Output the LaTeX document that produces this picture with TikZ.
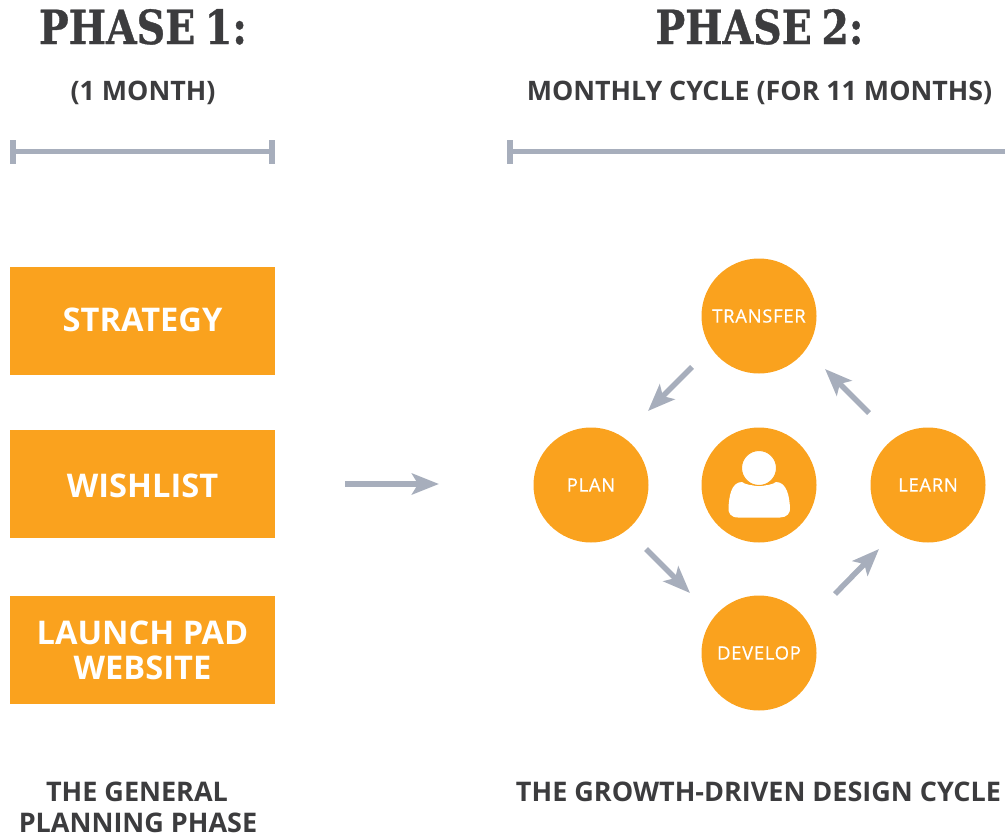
\documentclass[tikz,border=0pt]{standalone}
\usepackage{fontspec}
\setmainfont{Open Sans}
\newfontfamily\slabfont[FakeStretch=0.84,WordSpace=0.7,FakeBold=0.8]{DejaVu Serif}
\newfontfamily\stagefont[FakeBold=0.6]{Open Sans}
\usetikzlibrary{arrows.meta}
\definecolor{brandorange}{HTML}{FAA21E}
\definecolor{barblue}{HTML}{A7AEBC}
\definecolor{inkgrey}{HTML}{3C3C3E}
\tikzset{
  x=1pt,y=-1pt,
  phasetitle/.style={text=inkgrey,font=\slabfont\bfseries\fontsize{47}{52}\selectfont,inner sep=0pt,anchor=base},
  subhead/.style={text=inkgrey,font=\bfseries\fontsize{26.8}{31}\selectfont,inner sep=0pt,anchor=base,align=center},
  captionhead/.style={subhead,font=\bfseries\fontsize{27}{31}\selectfont,text depth=0pt},
  stagebox/.style={minimum width=265pt,minimum height=108pt,inner sep=0pt,align=center,text=white,font=\bfseries\fontsize{32.6}{35}\selectfont},
  stagecircle/.style={circle,fill=brandorange,minimum size=115pt,inner sep=0pt,text=white,font=\stagefont\fontsize{18.4}{20}\selectfont\addfontfeature{LetterSpace=4}},
  bar/.style={draw=barblue,line width=5.5pt},
  flow/.style={draw=barblue,line width=5.5pt,-{Stealth[length=27pt,width=21pt,inset=6pt,fill=barblue]}}
}
\begin{document}
\begin{tikzpicture}
\useasboundingbox (0,0) rectangle (1005,835);
\node[phasetitle] (t1) at (143,44) {PHASE 1:};
\node[phasetitle] (t2) at (759.5,44) {PHASE 2:};
\node[subhead] (s1) at (143,100) {(1 MONTH)};
\node[subhead] (s2) at (759.5,100) {MONTHLY CYCLE (FOR 11 MONTHS)};
% measuring bars
\coordinate (b1l) at (13,151.5); \coordinate (b1r) at (272,151.5);
\coordinate (b2l) at (510,151.5); \coordinate (b2r) at (1005,151.5);
\draw[bar] (b1l) -- (b1r);
\draw[bar] (b2l) -- (b2r);
\draw[bar] ([yshift=-12pt]b1l) -- ([yshift=12pt]b1l);
\draw[bar] ([yshift=-12pt]b1r) -- ([yshift=12pt]b1r);
\draw[bar] ([yshift=-12pt]b2l) -- ([yshift=12pt]b2l);
% boxes
\node[stagebox,fill=brandorange] (box1) at (142.5,321) {};
\node[stagebox,fill=brandorange] (box2) at (142.5,484) {};
\node[stagebox,fill=brandorange] (box3) at (142.5,650) {};
\node[stagebox] (strategy) at (142.5,320) {STRATEGY};
\node[stagebox] (wishlist) at (142.5,485.5) {WISHLIST};
\node[stagebox] (launch) at (142.5,650.5) {LAUNCH PAD\\WEBSITE};
% circles
\node[stagecircle] (transfer) at (759,316) {TRANSFER};
\node[stagecircle] (plan) at (591,485) {PLAN};
\node[stagecircle] (centre) at (759,485) {};
\node[stagecircle] (learn) at (928,485) {LEARN};
\node[stagecircle] (develop) at (759,653) {DEVELOP};
% person icon
\fill[white] (738,517.5) .. controls (731,517.5) and (728,513) .. (728.5,508)
  .. controls (729,497) and (731,482) .. (742,482)
  .. controls (748,487) and (770,487) .. (776,482)
  .. controls (787,482) and (789.5,497) .. (790,508)
  .. controls (790.5,513) and (787,517.5) .. (780,517.5) -- cycle;
\fill[white,draw=brandorange,line width=1pt] (centre.center) ++(0,-17) circle[radius=17.5];
% arrows
\coordinate (a0) at (345,484); \coordinate (a1) at (439,484);
\draw[flow] (a0) -- (a1);
\coordinate (a2) at (692,367); \coordinate (a3) at (648,411);
\draw[flow] (a2) -- (a3);
\coordinate (a4) at (869,413); \coordinate (a5) at (825,369);
\draw[flow] (a4) -- (a5);
\coordinate (a6) at (646,549); \coordinate (a7) at (690,593);
\draw[flow] (a6) -- (a7);
\coordinate (a8) at (835,594); \coordinate (a9) at (879,549);
\draw[flow] (a8) -- (a9);
% captions
\node[captionhead] (c1) at (137,801) {THE GENERAL};
\node[captionhead] (c1b) at (138,832) {PLANNING PHASE};
\node[captionhead] (c2) at (758.5,801) {THE GROWTH-DRIVEN DESIGN CYCLE};
\end{tikzpicture}
\end{document}
